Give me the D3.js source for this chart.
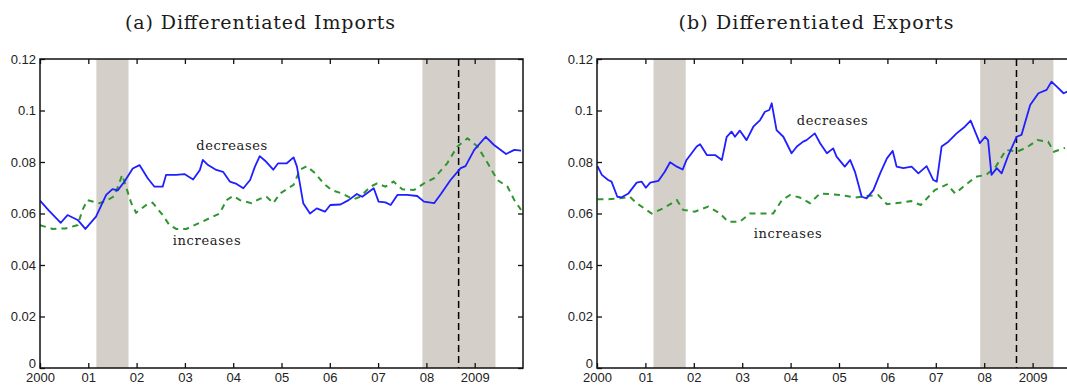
<!DOCTYPE html>
<html>
<head>
<meta charset="utf-8">
<script src="https://cdn.jsdelivr.net/npm/d3@7"></script>
<style>
    body { margin: 0; background: #fff; }
    svg { display: block; }
</style>
</head>
<body>
<div id="chart"></div>
<script>
// years since 2000
const yearTicks = [0, 1, 2, 3, 4, 5, 6, 7, 8, 9];
const valueTicks = [0, 0.02, 0.04, 0.06, 0.08, 0.1, 0.12];
const recessions = [[1.167, 1.833], [7.917, 9.43]];
const crisisLine = 8.667;

// (a) imports: [years since 2000, share]
const importsDecreases = [
    [0.00, 0.065], [0.19, 0.061], [0.43, 0.0564], [0.57, 0.0594], [0.78, 0.0575],
    [0.94, 0.054], [1.16, 0.0588], [1.37, 0.0672], [1.50, 0.0695], [1.61, 0.069],
    [1.75, 0.0724], [1.92, 0.0775], [2.06, 0.0788], [2.23, 0.0737], [2.37, 0.0704],
    [2.54, 0.0704], [2.61, 0.075], [2.82, 0.075], [2.99, 0.0753], [3.17, 0.0732],
    [3.31, 0.0769], [3.37, 0.0808], [3.48, 0.0788], [3.65, 0.0769], [3.79, 0.0762],
    [3.93, 0.0724], [4.07, 0.0715], [4.21, 0.0698], [4.35, 0.073], [4.45, 0.0782],
    [4.55, 0.0823], [4.66, 0.0805], [4.83, 0.077], [4.93, 0.0795], [5.11, 0.0795],
    [5.25, 0.0818], [5.32, 0.0782], [5.45, 0.064], [5.59, 0.060], [5.73, 0.062],
    [5.90, 0.0607], [6.01, 0.0633], [6.22, 0.0635], [6.39, 0.0652], [6.56, 0.0676],
    [6.67, 0.0665], [6.91, 0.0698], [7.01, 0.0646], [7.15, 0.0643], [7.26, 0.0633],
    [7.40, 0.0672], [7.60, 0.0672], [7.81, 0.0668], [7.95, 0.0646], [8.16, 0.064],
    [8.30, 0.0676], [8.50, 0.073], [8.71, 0.0776], [8.81, 0.0784], [8.99, 0.0847],
    [9.23, 0.0898], [9.40, 0.0866], [9.65, 0.0831], [9.82, 0.0847], [9.96, 0.0844]
];
const importsIncreases = [
    [0.00, 0.0555], [0.26, 0.054], [0.53, 0.0542], [0.78, 0.0555], [0.88, 0.0614],
    [0.98, 0.0652], [1.23, 0.064], [1.40, 0.0652], [1.54, 0.0668], [1.64, 0.0717],
    [1.70, 0.075], [1.78, 0.0704], [1.89, 0.064], [1.99, 0.0603], [2.20, 0.0633],
    [2.33, 0.0642], [2.54, 0.0594], [2.68, 0.0555], [2.82, 0.054], [3.03, 0.054],
    [3.31, 0.0564], [3.58, 0.0588], [3.72, 0.060], [3.86, 0.0652], [4.00, 0.0668],
    [4.14, 0.0652], [4.38, 0.064], [4.55, 0.0657], [4.69, 0.0665], [4.83, 0.064],
    [4.97, 0.0678], [5.25, 0.0711], [5.38, 0.0769], [5.52, 0.0784], [5.70, 0.0756],
    [5.87, 0.0717], [6.04, 0.0691], [6.25, 0.0678], [6.49, 0.0655], [6.63, 0.0665],
    [6.84, 0.0704], [6.98, 0.0717], [7.15, 0.0704], [7.32, 0.0724], [7.50, 0.0694],
    [7.74, 0.0691], [7.95, 0.0717], [8.16, 0.0737], [8.43, 0.0795], [8.64, 0.086],
    [8.85, 0.0892], [9.06, 0.086], [9.27, 0.0795], [9.47, 0.073], [9.68, 0.0704],
    [9.82, 0.0652], [9.96, 0.0614]
];

// (b) exports
const exportsDecreases = [
    [0.01, 0.0784], [0.10, 0.075], [0.23, 0.073], [0.30, 0.0724], [0.42, 0.0665],
    [0.51, 0.0663], [0.65, 0.0678], [0.82, 0.072], [0.92, 0.0724], [1.01, 0.070],
    [1.10, 0.072], [1.27, 0.0727], [1.40, 0.0762], [1.51, 0.0799], [1.65, 0.0782],
    [1.77, 0.0771], [1.85, 0.0808], [2.06, 0.086], [2.13, 0.0869], [2.27, 0.0827],
    [2.44, 0.0827], [2.58, 0.0808], [2.68, 0.0898], [2.78, 0.0918], [2.85, 0.0898],
    [2.95, 0.0922], [3.09, 0.0885], [3.23, 0.0937], [3.37, 0.0963], [3.47, 0.0995],
    [3.56, 0.1002], [3.61, 0.1028], [3.71, 0.0924], [3.85, 0.0898], [4.02, 0.0834],
    [4.13, 0.086], [4.26, 0.0879], [4.33, 0.0885], [4.50, 0.0911], [4.61, 0.0873],
    [4.75, 0.0834], [4.88, 0.0853], [4.95, 0.0821], [5.12, 0.0782], [5.23, 0.0808],
    [5.33, 0.0762], [5.47, 0.0665], [5.57, 0.0659], [5.71, 0.0691], [5.85, 0.0756],
    [5.99, 0.0814], [6.11, 0.0843], [6.19, 0.0782], [6.33, 0.0776], [6.50, 0.0782],
    [6.64, 0.0756], [6.81, 0.0784], [6.95, 0.073], [7.02, 0.0724], [7.12, 0.086],
    [7.26, 0.0879], [7.43, 0.0911], [7.60, 0.0937], [7.72, 0.0961], [7.91, 0.0873],
    [8.02, 0.0898], [8.08, 0.0885], [8.15, 0.075], [8.26, 0.0776], [8.36, 0.0756],
    [8.50, 0.0827], [8.67, 0.0898], [8.77, 0.0905], [8.95, 0.1021], [9.12, 0.1067],
    [9.29, 0.108], [9.39, 0.1112], [9.50, 0.1093], [9.64, 0.1067], [9.72, 0.1074]
];
const exportsIncreases = [
    [0.01, 0.0655], [0.20, 0.0655], [0.48, 0.0659], [0.68, 0.0665], [0.82, 0.064],
    [1.13, 0.060], [1.37, 0.062], [1.65, 0.0652], [1.78, 0.0614], [2.02, 0.0607],
    [2.30, 0.0627], [2.54, 0.060], [2.71, 0.0568], [2.95, 0.0568], [3.16, 0.060],
    [3.40, 0.060], [3.64, 0.060], [3.82, 0.0652], [3.99, 0.0672], [4.19, 0.0662],
    [4.40, 0.064], [4.61, 0.0678], [5.02, 0.0672], [5.33, 0.0662], [5.57, 0.0668],
    [5.81, 0.0672], [5.99, 0.0636], [6.26, 0.0642], [6.49, 0.0648], [6.69, 0.0633],
    [6.98, 0.0691], [7.23, 0.0713], [7.40, 0.0678], [7.62, 0.0712], [7.83, 0.0743],
    [8.04, 0.075], [8.24, 0.0782], [8.45, 0.0847], [8.68, 0.084], [8.88, 0.0857],
    [9.10, 0.0885], [9.32, 0.0879], [9.44, 0.084], [9.67, 0.0855]
];

const W = 1067, H = 385;
const plotTop = 59, plotBottom = 368;

const panels = [
    {
        id: 'a', title: '(a) Differentiated Imports', titleX: 260, titleW: 270,
        x0: 40, x1: 523, dec: importsDecreases, inc: importsIncreases,
        decLabel: [3.97, 0.0847], incLabel: [3.45, 0.0478]
    },
    {
        id: 'b', title: '(b) Differentiated Exports', titleX: 816, titleW: 275,
        x0: 597, x1: 1081, dec: exportsDecreases, inc: exportsIncreases,
        decLabel: [4.86, 0.0944], incLabel: [3.94, 0.0505]
    }
];

const svg = d3.select('#chart').append('svg')
    .attr('width', W)
    .attr('height', H);

const y = d3.scaleLinear().domain([0, 0.12]).range([plotBottom, plotTop]);

function drawPanel(p) {
    const x = d3.scaleLinear().domain([0, 10]).range([p.x0, p.x1]);
    const g = svg.append('g');

    g.append('clipPath').attr('id', 'clip-' + p.id)
        .append('rect')
        .attr('x', p.x0).attr('y', plotTop)
        .attr('width', p.x1 - p.x0).attr('height', plotBottom - plotTop);

    g.append('text')
        .attr('x', p.titleX).attr('y', 29)
        .attr('text-anchor', 'middle')
        .attr('textLength', p.titleW)
        .attr('lengthAdjust', 'spacing')
        .style('font-family', '"DejaVu Serif", serif')
        .style('font-size', '19px')
        .style('fill', '#1a1a1a')
        .text(p.title);

    g.selectAll('rect.rec')
        .data(recessions)
        .enter().append('rect')
        .attr('class', 'rec')
        .attr('x', (d) => x(d[0]))
        .attr('y', plotTop)
        .attr('width', (d) => x(d[1]) - x(d[0]))
        .attr('height', plotBottom - plotTop)
        .attr('fill', '#d4d0c9');

    g.append('line')
        .attr('x1', x(crisisLine)).attr('x2', x(crisisLine))
        .attr('y1', plotTop).attr('y2', plotBottom)
        .attr('stroke', '#000')
        .attr('stroke-width', 1.5)
        .attr('stroke-dasharray', '7,4');

    const line = d3.line()
        .x((d) => x(d[0]))
        .y((d) => y(d[1]));

    const lines = g.append('g').attr('clip-path', 'url(#clip-' + p.id + ')');
    lines.append('path')
        .datum(p.inc)
        .attr('d', line)
        .attr('fill', 'none')
        .attr('stroke', '#2f962f')
        .attr('stroke-width', 2)
        .attr('stroke-dasharray', '6,5');
    lines.append('path')
        .datum(p.dec)
        .attr('d', line)
        .attr('fill', 'none')
        .attr('stroke', '#1f1fff')
        .attr('stroke-width', 1.8)
        .attr('stroke-linejoin', 'round');

    const serif = '"DejaVu Serif", serif';
    g.append('text')
        .attr('x', x(p.decLabel[0])).attr('y', y(p.decLabel[1]))
        .attr('text-anchor', 'middle')
        .attr('textLength', 71).attr('lengthAdjust', 'spacing')
        .style('font-family', serif).style('font-size', '13px').style('fill', '#222')
        .text('decreases');
    g.append('text')
        .attr('x', x(p.incLabel[0])).attr('y', y(p.incLabel[1]))
        .attr('text-anchor', 'middle')
        .attr('textLength', 68).attr('lengthAdjust', 'spacing')
        .style('font-family', serif).style('font-size', '13px').style('fill', '#222')
        .text('increases');

    // axes: ticks point inward on all four sides
    const fmtX = (d) => (d === 0 ? '2000' : d === 9 ? '2009' : '0' + d);
    const fmtY = (d) => String(+d.toFixed(2));

    const bottomAxis = g.append('g')
        .attr('transform', 'translate(0,' + plotBottom + ')')
        .call(d3.axisBottom(x).tickValues(yearTicks).tickFormat(fmtX).tickSizeInner(-5).tickSizeOuter(0).tickPadding(5));
    const topAxis = g.append('g')
        .attr('transform', 'translate(0,' + plotTop + ')')
        .call(d3.axisTop(x).tickValues(yearTicks).tickFormat('').tickSizeInner(-5).tickSizeOuter(0));
    const leftAxis = g.append('g')
        .attr('transform', 'translate(' + p.x0 + ',0)')
        .call(d3.axisLeft(y).tickValues(valueTicks).tickFormat(fmtY).tickSizeInner(-5).tickSizeOuter(0).tickPadding(4));
    const rightAxis = g.append('g')
        .attr('transform', 'translate(' + p.x1 + ',0)')
        .call(d3.axisRight(y).tickValues(valueTicks).tickFormat('').tickSizeInner(-5).tickSizeOuter(0));

    [bottomAxis, topAxis, leftAxis, rightAxis].forEach((a) => {
        a.select('.domain').remove();
        a.selectAll('line').attr('stroke', '#111').attr('stroke-width', 1.3);
        a.selectAll('text')
            .style('font-family', '"Liberation Sans", Arial, sans-serif')
            .style('font-size', '13px')
            .style('fill', '#222');
    });
    // the zero label sits a little above its tick, clear of the year labels
    leftAxis.selectAll('.tick text')
        .filter((d) => d === 0)
        .attr('dy', '-0.05em');

    g.append('rect')
        .attr('x', p.x0).attr('y', plotTop)
        .attr('width', p.x1 - p.x0).attr('height', plotBottom - plotTop)
        .attr('fill', 'none')
        .attr('stroke', '#111')
        .attr('stroke-width', 1.5);
}

panels.forEach(drawPanel);
</script>
</body>
</html>
